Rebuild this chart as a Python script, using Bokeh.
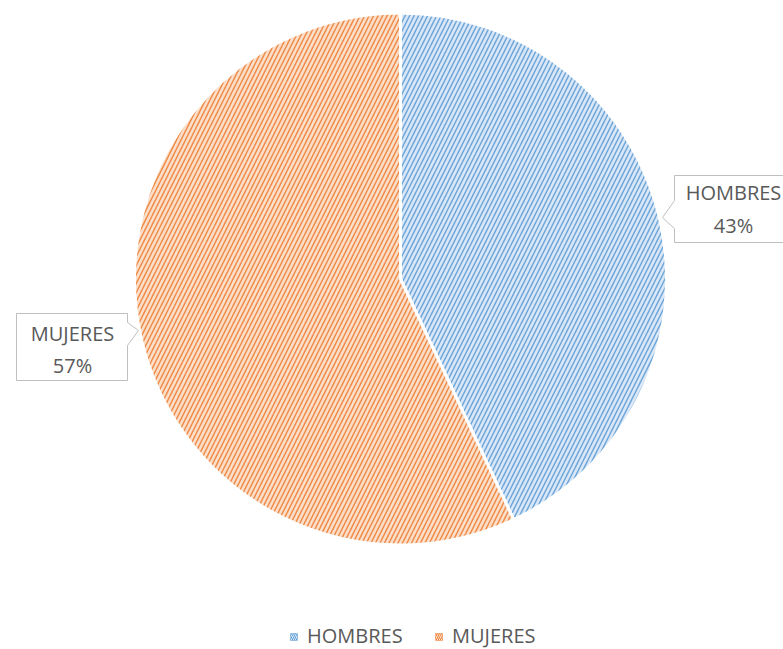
import math
from bokeh.plotting import figure
from bokeh.models import Range1d, ColumnDataSource
from bokeh.core.properties import value
from bokeh.embed import file_html
from bokeh.resources import INLINE

categories = ["HOMBRES", "MUJERES"]
shares = [43, 57]
base_colors = ["#dae7f6", "#fbdfca"]
hatch_colors = ["#5b9bd5", "#ed7d31"]

W, H = 783, 649
p = figure(width=W, height=H, output_backend="svg", toolbar_location=None,
           x_range=Range1d(0, W), y_range=Range1d(0, H), min_border=0)
p.axis.visible = False
p.grid.visible = False
p.outline_line_color = None
p.background_fill_color = "white"
p.border_fill_color = "white"

def sy(y):  # screen-y to data-y
    return H - y

cx, cy, r = 400, sy(278.5), 266
total = sum(shares)
starts, ends = [], []
a = math.pi / 2
for s in shares:
    starts.append(a)
    a -= s / total * 2 * math.pi
    ends.append(a)

src = ColumnDataSource(dict(start=starts, end=ends, fill=base_colors, hatch=hatch_colors))
p.wedge(x=cx, y=cy, radius=r, start_angle="start", end_angle="end", direction="clock",
        fill_color="fill", hatch_color="hatch", hatch_pattern="/", hatch_scale=9,
        hatch_weight=1.5, hatch_alpha=0.85, line_color="white", line_width=3, source=src)

font = value("Open Sans")
txt_color = "#595959"
fs = "20px"

# HOMBRES callout (pointer on the left)
hx = [674, 800, 800, 674, 674, 662, 674]
hy = [sy(y) for y in [175, 175, 242, 242, 228, 217, 200]]
p.patch(hx, hy, fill_color="white", line_color="#bfbfbf", line_width=1)
# MUJERES callout (pointer on the right)
mx = [16, 127, 127, 138, 127, 127, 16]
my = [sy(y) for y in [313, 313, 322, 330, 345, 380, 380]]
p.patch(mx, my, fill_color="white", line_color="#bfbfbf", line_width=1)

p.text(x=[733, 72], y=[sy(192), sy(333)], text=categories, text_align="center",
       text_baseline="middle", text_font=font, text_font_size=fs, text_color=txt_color)
p.text(x=[733, 72], y=[sy(225), sy(365)], text=[f"{s}%" for s in shares], text_align="center",
       text_baseline="middle", text_font=font, text_font_size=fs, text_color=txt_color)

# legend
lx = [293.5, 438.5]
p.rect(x=lx, y=[sy(636.5)] * 2, width=7, height=7, fill_color=base_colors,
       hatch_color=hatch_colors, hatch_pattern="/", hatch_scale=4, hatch_weight=1,
       line_color=hatch_colors, line_width=0.5)
p.text(x=[x + 13 for x in lx], y=[sy(635)] * 2, text=categories, text_align="left",
       text_baseline="middle", text_font=font, text_font_size=fs, text_color=txt_color)

open("out.html", "w").write(file_html(p, INLINE))
